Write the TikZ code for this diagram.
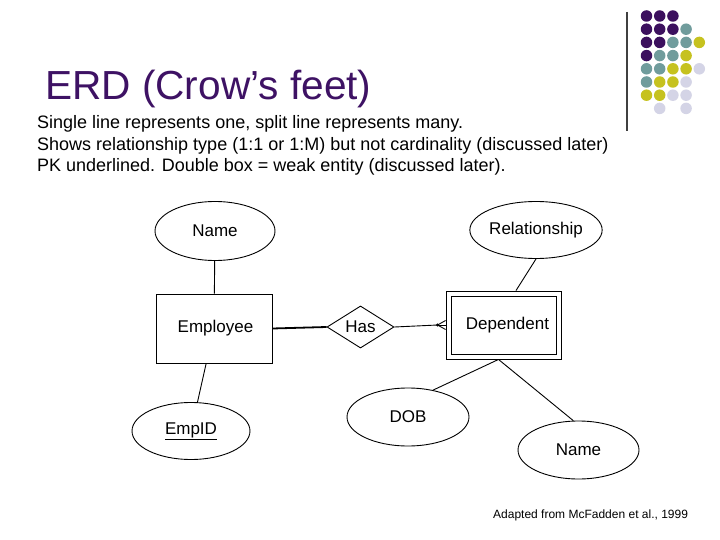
\documentclass[tikz,border=0pt]{standalone}
\usepackage{fontspec}
\setmainfont{Liberation Sans}
\usetikzlibrary{shapes.geometric}
\definecolor{dpurple}{RGB}{60,16,94}
\definecolor{dteal}{RGB}{112,156,156}
\definecolor{dyellow}{RGB}{198,194,31}
\definecolor{dlav}{RGB}{212,212,230}
\definecolor{titlec}{RGB}{62,18,100}
\tikzset{
  ent/.style={draw, rectangle, line width=0.9pt, inner sep=0pt, font=\fontsize{17}{20}\selectfont},
  attr/.style={draw, ellipse, line width=0.9pt, inner sep=0pt, font=\fontsize{17}{20}\selectfont},
  rel/.style={draw, diamond, line width=0.9pt, inner sep=0pt, font=\fontsize{17}{20}\selectfont},
  conn/.style={line width=0.9pt},
  body/.style={anchor=base west, inner sep=0pt, font=\fontsize{18}{21}\selectfont},
  dot/.style={circle, inner sep=0pt, minimum size=11.5pt}
}
\begin{document}
\begin{tikzpicture}[x=1pt,y=-1pt]
\useasboundingbox[fill=white] (0,0) rectangle (720,540);
% decorative dots
\foreach \r/\c/\col in {0/0/dpurple,0/1/dpurple,0/2/dpurple,
  1/0/dpurple,1/1/dpurple,1/2/dpurple,1/3/dteal,
  2/0/dpurple,2/1/dpurple,2/2/dteal,2/3/dteal,2/4/dyellow,
  3/0/dpurple,3/1/dteal,3/2/dteal,3/3/dyellow,
  4/0/dteal,4/1/dteal,4/2/dyellow,4/3/dyellow,4/4/dlav,
  5/0/dteal,5/1/dyellow,5/2/dyellow,5/3/dlav,
  6/0/dyellow,6/1/dyellow,6/2/dlav,6/3/dlav,
  7/1/dlav,7/3/dlav}
  \node[dot, fill=\col] (d\r\c) at ({646.5+13.2*\c},{16+13.2*\r}) {};
\draw[line width=1.3pt, black!75] (627,12) -- (627,131);
% title and text
\node[anchor=base west, inner sep=0pt, text=titlec, font=\fontsize{40.6}{48}\selectfont] (title) at (45,100) {ERD (Crow’s feet)};
\node[body] (t1) at (37,129) {Single line represents one, split line represents many.};
\node[body] (t2) at (37,151) {Shows relationship type (1:1 or 1:M) but not cardinality (discussed later)};
\node[body] (t3) at (37,172) {PK underlined. Double box = weak entity (discussed later).};
\node[anchor=base west, inner sep=0pt, font=\fontsize{12}{14}\selectfont] (foot) at (493,518) {Adapted from McFadden et al., 1999};
% diagram
\node[attr, minimum width=120pt, minimum height=59pt] (name1) at (215,231) {Name};
\node[ent, minimum width=116pt, minimum height=69pt] (emp) at (214,328.5) {\hspace*{3pt}Employee};
\node[attr, minimum width=118pt, minimum height=57pt] (empid) at (191,431) {\underline{EmpID}};
\node[rel, minimum width=67pt, minimum height=40pt] (has) at (360.5,327) {Has};
\node[ent, minimum width=115pt, minimum height=68pt] (depout) at (503.5,325) {};
\node[ent, minimum width=105pt, minimum height=58pt] (depin) at (503.5,325) {\hspace*{8pt}Dependent};
\node[attr, minimum width=122pt, minimum height=57pt] (relat) at (536,230) {Relationship};
\node[attr, minimum width=122pt, minimum height=58pt] (dob) at (408,417) {DOB};
\node[attr, minimum width=121pt, minimum height=58pt] (name2) at (578.5,450) {Name};
\draw[conn] (name1) -- (emp);
\draw[conn] (emp) -- (empid);
\draw[line width=1.8pt] (emp.east) -- (has.west);
\coordinate (cf) at ([xshift=-8pt]depout.west);
\draw[conn] (has.east) -- (cf);
\draw[conn] (cf) -- (depout.west);
\draw[conn] (cf) -- ([yshift=4.5pt]depout.west);
\draw[conn] (cf) -- ([yshift=-4.5pt]depout.west);
\fill (cf) circle (1.6pt);
\draw[conn] (relat.south) -- ([xshift=12.5pt]depout.north);
\draw[conn] ([xshift=-5pt]depout.south) -- (dob.47);
\draw[conn] ([xshift=-5pt]depout.south) -- (name2.100);
\end{tikzpicture}
\end{document}
